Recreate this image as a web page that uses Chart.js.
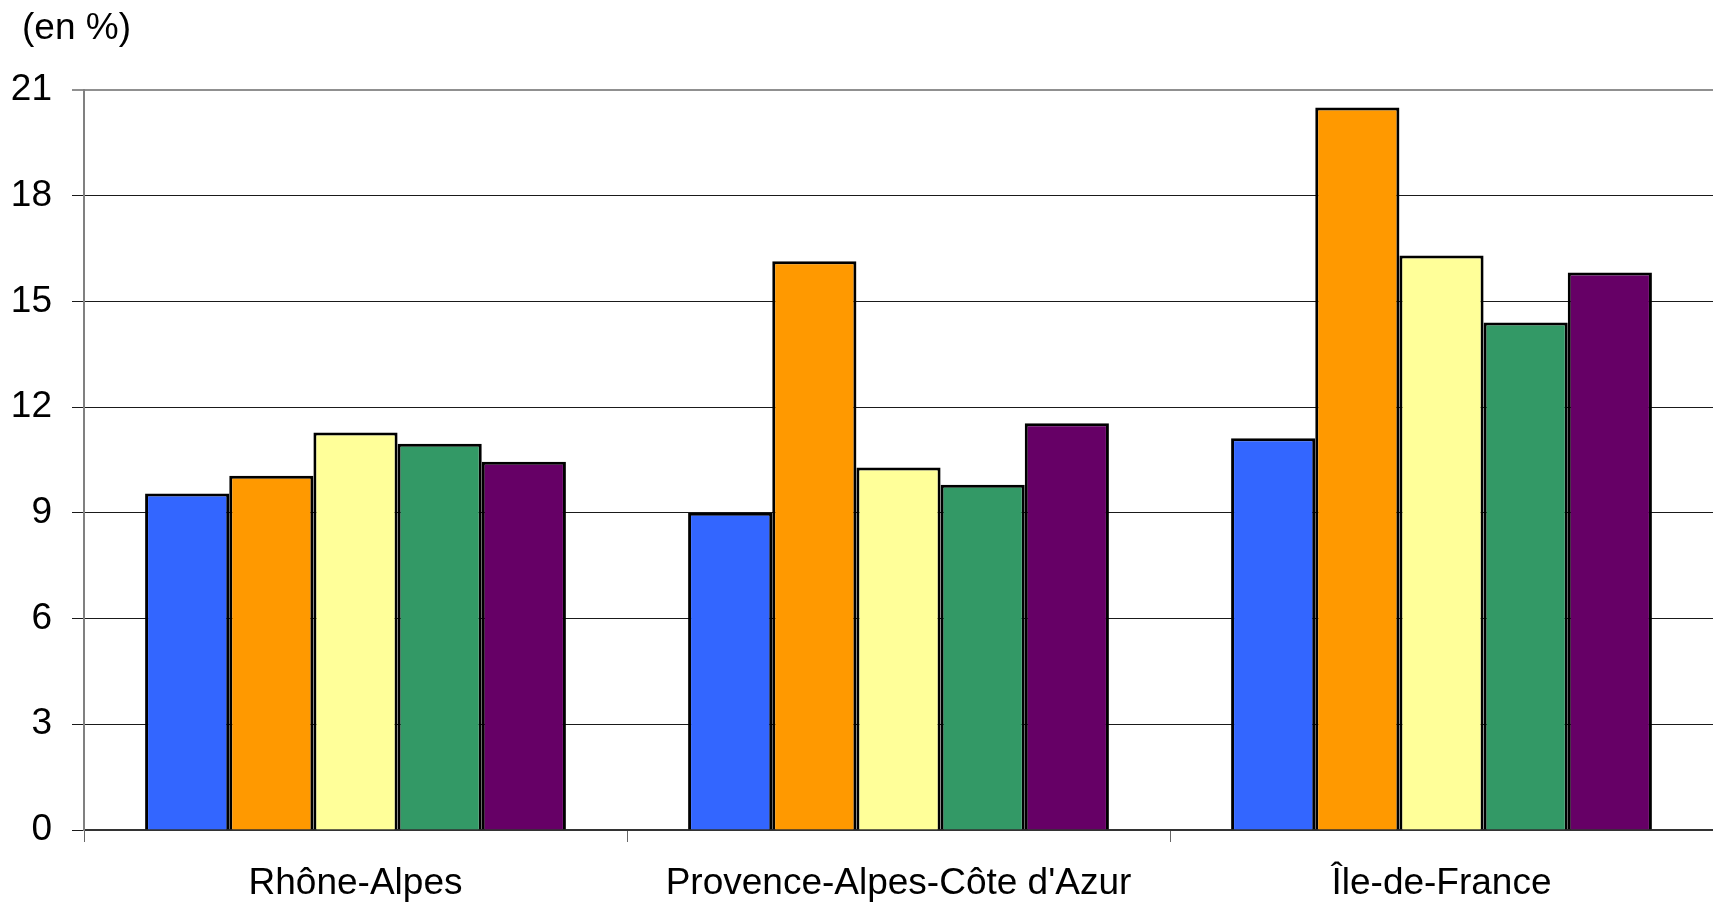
<!DOCTYPE html>
<html>
<head>
<meta charset="utf-8">
<script src="https://cdn.jsdelivr.net/npm/chart.js@4"></script>
<style>
    html, body { margin: 0; padding: 0; background: #fff; }
    #wrap { width: 1713px; height: 904px; position: relative; }
</style>
</head>
<body>
<div id="wrap"><canvas id="regionsChart"></canvas></div>
<script>
// Regions on the x axis
let REGIONS = ["Rhône-Alpes", "Provence-Alpes-Côte d'Azur", "Île-de-France"]

// One series per colour (en %)
let SERIES_NAMES = ["Série 1", "Série 2", "Série 3", "Série 4", "Série 5"]
let SERIES_COLORS = ["#3366ff", "#ff9900", "#ffff99", "#339966", "#660066"]
let SERIE_1 = [9.55, 9.0, 11.12]
let SERIE_2 = [10.05, 16.14, 20.5]
let SERIE_3 = [11.28, 10.29, 16.3]
let SERIE_4 = [10.96, 9.8, 14.4]
let SERIE_5 = [10.45, 11.54, 15.82]

// Y axis ticks
let Y_MIN = 0
let Y_MAX = 21
let Y_STEP = 3

let UNIT_LABEL = "(en %)"

const FONT = "'Liberation Sans', Arial, sans-serif"

window.onload = (event) => {
    renderChart()
};

// Draws the "(en %)" caption in the top left corner
const unitLabelPlugin = {
    id: 'unitLabel',
    afterDraw(chart) {
        const ctx = chart.ctx
        ctx.save()
        ctx.font = "37px " + FONT
        ctx.fillStyle = "#000"
        ctx.textAlign = "left"
        ctx.textBaseline = "alphabetic"
        ctx.fillText(UNIT_LABEL, 22, 39)
        ctx.restore()
    }
}

function renderChart() {
    let allSeries = [SERIE_1, SERIE_2, SERIE_3, SERIE_4, SERIE_5]

    const chartCanvas = document.getElementById('regionsChart').getContext('2d');
    const chart = new Chart(chartCanvas, {
        type: "bar",
        data: {
            labels: REGIONS,
            datasets: allSeries.map((values, i) => ({
                label: SERIES_NAMES[i],
                data: values,
                backgroundColor: SERIES_COLORS[i],
                borderColor: '#000',
                borderWidth: 3,
                borderSkipped: 'bottom',
                categoryPercentage: 0.775,
                barPercentage: 1.0
            }))
        },
        options: {
            responsive: true,
            maintainAspectRatio: false,
            animation: false,
            layout: {
                // plot runs a little past the right edge in the original
                padding: { top: 90, right: -8, bottom: 0, left: 0 }
            },
            plugins: {
                legend: { display: false },
                tooltip: { enabled: false },
                title: { display: false }
            },
            scales: {
                x: {
                    offset: true,
                    afterFit: (scale) => { scale.height = 74 },
                    grid: {
                        offset: true,
                        drawOnChartArea: false,
                        drawTicks: true,
                        tickLength: 12,
                        color: '#666',
                        lineWidth: 1
                    },
                    border: { display: true, color: '#333', width: 2 },
                    ticks: {
                        color: '#000',
                        padding: 20,
                        maxRotation: 0,
                        font: { family: FONT, size: 37 }
                    }
                },
                y: {
                    min: Y_MIN,
                    max: Y_MAX,
                    afterFit: (scale) => { scale.width = 84 },
                    ticks: {
                        stepSize: Y_STEP,
                        color: '#000',
                        padding: 20,
                        font: { family: FONT, size: 37 }
                    },
                    grid: {
                        drawTicks: true,
                        tickLength: 12,
                        color: (c) => (c.tick && c.tick.value === Y_MAX) ? '#909090' : '#1a1a1a',
                        lineWidth: (c) => (c.tick && c.tick.value === Y_MAX) ? 2 : 1
                    },
                    border: { display: true, color: '#808080', width: 2 }
                }
            }
        },
        plugins: [unitLabelPlugin]
    })
}
</script>
</body>
</html>
